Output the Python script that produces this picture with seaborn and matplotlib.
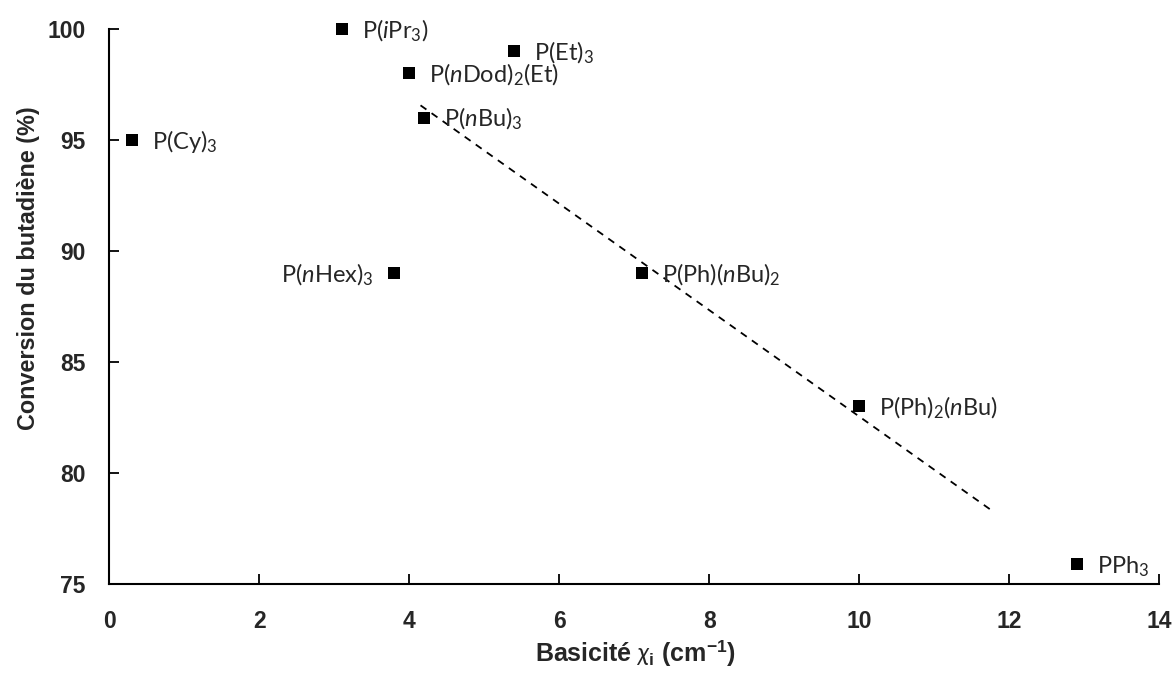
import matplotlib
matplotlib.use("Agg")
import seaborn as sns
import matplotlib.pyplot as plt
import pandas as pd

# data
ligands = [r'P(Cy)$_3$', r'P($\mathit{i}$Pr$_3$)', r'P($\mathit{n}$Hex)$_3$',
           r'P($\mathit{n}$Dod)$_2$(Et)', r'P($\mathit{n}$Bu)$_3$', r'P(Et)$_3$',
           r'P(Ph)($\mathit{n}$Bu)$_2$', r'P(Ph)$_2$($\mathit{n}$Bu)', r'PPh$_3$']
basicity = [0.3, 3.1, 3.8, 4.0, 4.2, 5.4, 7.1, 10.0, 12.9]
conversion = [95, 100, 89, 98, 96, 99, 89, 83, 75.9]
# label on left side of marker?
label_left = [False, False, True, False, False, False, False, False, False]

# dashed trend line end points
trend_x = [4.15, 11.77]
trend_y = [96.56, 78.3]

df = pd.DataFrame({'ligand': ligands, 'x': basicity, 'y': conversion})

sns.set_style('white')
plt.rcParams['font.family'] = ['Lato', 'DejaVu Sans']
plt.rcParams['mathtext.fontset'] = 'custom'
plt.rcParams['mathtext.rm'] = 'Lato'
plt.rcParams['mathtext.it'] = 'Lato:italic'
plt.rcParams['mathtext.bf'] = 'Liberation Sans:bold'

fig = plt.figure(figsize=(11.76, 6.77), dpi=100)
ax = fig.add_axes([0.0929, 0.1374, 0.8929, 0.8198])

ax.plot(trend_x, trend_y, color='black', linestyle=(0, (4, 3.5)), linewidth=1.3)
sns.scatterplot(data=df, x='x', y='y', marker='s', s=70, color='black',
                edgecolor='black', linewidth=0, ax=ax, zorder=3, clip_on=False)

for lab, xv, yv, left in zip(ligands, basicity, conversion, label_left):
    if left:
        ax.annotate(lab, (xv, yv), xytext=(-15, -6.5), textcoords='offset points',
                    ha='right', va='baseline', fontsize=17)
    else:
        ax.annotate(lab, (xv, yv), xytext=(14.5, -6.5), textcoords='offset points',
                    ha='left', va='baseline', fontsize=17)

ax.set_xlim(0, 14)
ax.set_ylim(75, 100)
ax.set_xticks(range(0, 15, 2))
ax.set_yticks(range(75, 101, 5))

for s in ['top', 'right']:
    ax.spines[s].set_visible(False)
for s in ['left', 'bottom']:
    ax.spines[s].set_color('black')
    ax.spines[s].set_linewidth(1.5)

ax.tick_params(axis='both', direction='in', length=7, width=1.3, color='black',
               bottom=True, left=True)
ax.tick_params(axis='x', pad=19)
ax.tick_params(axis='y', pad=17)
for t in ax.get_xticklabels() + ax.get_yticklabels():
    t.set_fontfamily('Liberation Sans')
    t.set_fontweight('bold')
    t.set_fontsize(16.5)

ax.set_xlabel(r'Basicité $\chi_{\mathregular{i}}$ (cm$^{\mathregular{-1}}$)',
              fontfamily='Liberation Sans', fontweight='bold', fontsize=18)
ax.set_ylabel('Conversion du butadiène (%)',
              fontfamily='Liberation Sans', fontweight='bold', fontsize=16.8)
ax.xaxis.set_label_coords(0.501, -0.097)
ax.yaxis.set_label_coords(-0.066, 0.569)

fig.savefig('out.png', dpi=100)
